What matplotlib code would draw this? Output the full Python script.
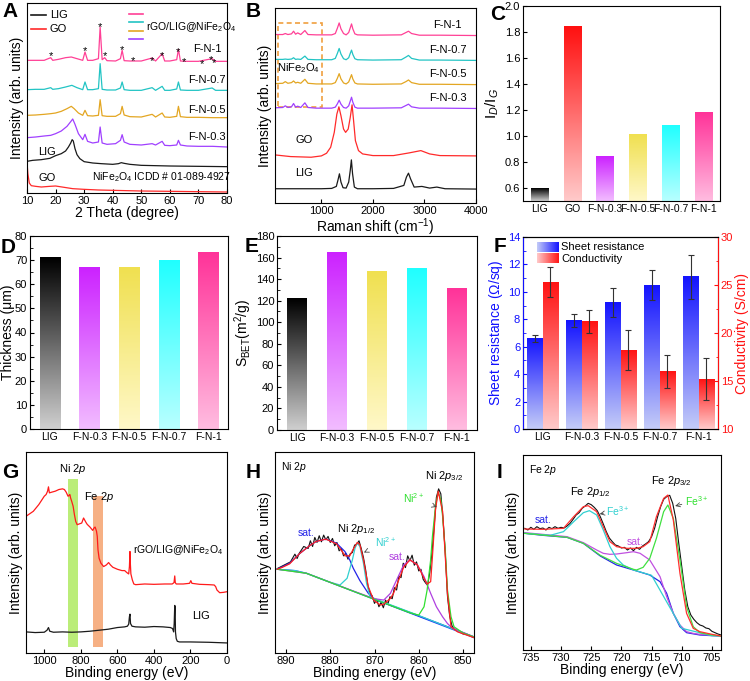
import numpy as np
import matplotlib
matplotlib.use("Agg")
import matplotlib.pyplot as plt
from matplotlib.colors import LinearSegmentedColormap

plt.rcParams.update({
    "font.family": "Liberation Sans",
    "mathtext.fontset": "custom",
    "mathtext.rm": "Liberation Sans",
    "mathtext.it": "Liberation Sans:italic",
    "mathtext.bf": "Liberation Sans:bold",
    "axes.linewidth": 0.8,
    "xtick.direction": "in",
    "ytick.direction": "in",
    "xtick.labelsize": 8,
    "ytick.labelsize": 8,
    "xtick.major.size": 3,
    "ytick.major.size": 3,
    "xtick.minor.size": 1.8,
    "ytick.minor.size": 1.8,
    "xtick.major.pad": 2.5,
    "ytick.major.pad": 2,
})

# ---------------- data ----------------
# A: XRD (2 theta, arb. intensity)
xrd_go_x = [10, 10.3, 10.8, 11.5, 13, 15, 18, 20, 23, 26, 30, 35, 40, 50, 60, 70, 80]
xrd_go_y = [93, 58, 30, 22, 20, 18, 20, 21, 17, 13, 11, 9, 8, 6, 5, 4, 3]
xrd_lig_x = [10, 12, 15, 18, 20, 22, 23.5, 24.5, 25.3, 25.8, 26.2, 26.8, 27.5, 28.5, 30, 33, 36,
             40, 42, 43, 44, 46, 50, 55, 60, 70, 80]
xrd_lig_y = [95, 98, 100, 104, 112, 118, 126, 138, 150, 160, 156, 133, 115, 103, 94, 90, 88,
             86, 88, 91, 89, 86, 83, 82, 81, 80, 79]
xrd_03_x = [10, 13, 16, 18.3, 20, 22, 24, 25.2, 26, 26.8, 28, 29.5, 30.3, 31.2, 33, 35, 35.6, 36.3,
            38, 41, 42.7, 43.3, 44, 46, 50, 53.8, 55, 57.3, 58.2, 60, 62.4, 63, 63.7, 66, 70, 75, 80]
xrd_03_y = [166, 168, 171, 173, 178, 186, 200, 213, 222, 206, 178, 160, 176, 155, 150, 153, 198, 150,
            146, 148, 158, 175, 153, 146, 144, 148, 144, 155, 143, 142, 144, 158, 144, 141, 140, 140, 138]
xrd_05_x = [10, 13, 16, 18.3, 20, 22, 24, 25.5, 26.5, 28, 29.5, 30.3, 31.2, 33, 35, 35.6, 36.3, 38,
            41, 42.7, 43.3, 44, 46, 50, 53.8, 55, 57.3, 58.2, 60, 62.4, 63, 63.7, 66, 70, 75, 80]
xrd_05_y = [233, 234, 236, 238, 240, 245, 253, 260, 253, 240, 233, 248, 232, 231, 233, 280, 232, 230,
            230, 238, 260, 234, 229, 228, 236, 228, 240, 228, 227, 230, 260, 229, 227, 227, 226, 226]
xrd_07_x = [10, 13, 16, 18.3, 19, 21, 23.5, 25.7, 27.5, 29.5, 30.3, 31.2, 33, 35, 35.6, 36.3, 38, 41,
            42.7, 43.3, 44, 46, 50, 53.8, 55, 57.3, 58.2, 60, 62.4, 63, 63.7, 66, 70, 74.8, 76, 80]
xrd_07_y = [310, 311, 311, 316, 311, 313, 318, 323, 316, 310, 333, 310, 310, 313, 388, 311, 309, 309,
            315, 333, 310, 308, 308, 316, 308, 320, 308, 308, 312, 333, 309, 308, 308, 315, 308, 308]
xrd_1_x = [10, 13, 16, 18.3, 19, 21, 23.5, 25.5, 27.5, 29.5, 30.3, 31.2, 33, 35, 35.6, 36.3, 37.2, 38,
           41, 42.7, 43.3, 44, 46, 50, 53.8, 55, 57.3, 58.2, 60, 62.4, 63, 63.7, 66, 70, 74.8, 76, 80]
xrd_1_y = [398, 398, 398, 406, 398, 401, 406, 408, 403, 398, 423, 398, 398, 403, 498, 400, 406, 397,
           396, 403, 428, 397, 396, 396, 405, 396, 418, 396, 396, 400, 431, 396, 395, 395, 403, 395, 395]
star_x = [18.3, 30.3, 35.6, 37.3, 43.3, 47.2, 53.7, 57.3, 62.9, 65, 71.3, 74.5, 75.5]
star_y = [416, 433, 503, 416, 436, 401, 401, 416, 430, 398, 393, 406, 396]

# B: Raman
ram_lig_x = [100, 500, 1000, 1200, 1290, 1320, 1350, 1380, 1420, 1480, 1530, 1560, 1582, 1605, 1640,
             1700, 2000, 2400, 2600, 2650, 2690, 2730, 2800, 2950, 3100, 3240, 3400, 4000]
ram_lig_y = [43, 43, 43, 44, 50, 68, 88, 63, 46, 45, 63, 98, 130, 88, 48,
             43, 43, 44, 53, 78, 90, 73, 48, 50, 45, 48, 43, 42]
ram_go_x = [100, 400, 800, 1000, 1100, 1180, 1250, 1300, 1340, 1380, 1430, 1470, 1520, 1560, 1595,
            1625, 1660, 1720, 1800, 2000, 2400, 2700, 2930, 3100, 3300, 4000]
ram_go_y = [145, 140, 138, 142, 150, 168, 213, 268, 290, 263, 223, 213, 223, 258, 296,
            248, 188, 158, 148, 143, 143, 151, 158, 148, 143, 142]
ram_x = [100, 250, 300, 350, 420, 460, 500, 540, 600, 680, 740, 900, 1200, 1270, 1310, 1345, 1380,
         1430, 1480, 1530, 1560, 1585, 1610, 1650, 1700, 2000, 2550, 2640, 2690, 2750, 2900, 3300, 4000]
ram_03_y = [287, 288, 293, 288, 290, 300, 289, 292, 288, 302, 288, 286, 286, 289, 299, 310, 298,
            288, 286, 293, 307, 319, 304, 289, 286, 286, 287, 294, 298, 290, 286, 286, 285]
ram_05_y = [360, 361, 366, 361, 363, 368, 362, 364, 361, 373, 361, 359, 359, 363, 376, 390, 374,
            362, 359, 365, 377, 387, 374, 362, 359, 358, 359, 366, 371, 363, 358, 358, 357]
ram_07_y = [433, 433, 434, 433, 434, 438, 433, 434, 433, 443, 433, 432, 432, 436, 451, 466, 449,
            435, 432, 438, 451, 461, 448, 435, 432, 431, 432, 440, 445, 436, 431, 431, 430]
ram_1_y = [508, 508, 511, 508, 510, 518, 509, 513, 508, 520, 508, 507, 507, 511, 527, 543, 525,
           511, 507, 514, 528, 540, 525, 510, 507, 506, 507, 514, 518, 511, 506, 506, 505]

# C: ID/IG
c_labels = ["LIG", "GO", "F-N-0.3", "F-N-0.5", "F-N-0.7", "F-N-1"]
c_values = [0.60, 1.84, 0.84, 1.01, 1.08, 1.18]

# D, E, F
s_labels = ["LIG", "F-N-0.3", "F-N-0.5", "F-N-0.7", "F-N-1"]
thickness = [71, 67, 67, 70, 73]
sbet = [122, 165, 147, 150, 131]
sheet_res = [6.6, 7.9, 9.2, 10.5, 11.1]
sheet_err = [0.25, 0.45, 1.05, 1.1, 1.6]
conduct = [25.3, 21.2, 18.2, 16.0, 15.2]
conduct_err = [1.6, 1.2, 2.1, 1.7, 2.2]

# G: XPS survey
sv_red_x = [1100, 1060, 1030, 1000, 990, 982, 977, 972, 960, 940, 920, 900, 890, 880, 870, 865, 860,
            856, 850, 842, 835, 828, 820, 805, 795, 785, 780, 772, 765, 750, 735, 728, 722, 718, 714,
            710, 706, 700, 690, 675, 660, 648, 638, 625, 600, 575, 560, 548, 538, 534, 531, 529, 526,
            518, 510, 500, 450, 400, 340, 300, 290, 286, 283, 278, 240, 205, 198, 192, 150, 100, 70,
            62, 55, 40, 20, 0]
sv_red_y = [408, 423, 443, 468, 473, 483, 496, 478, 480, 483, 488, 490, 488, 480, 468, 470, 473,
            463, 453, 438, 413, 393, 383, 386, 388, 403, 398, 390, 384, 376, 366, 373, 376, 370, 363,
            348, 308, 283, 268, 258, 263, 270, 263, 256, 250, 246, 246, 240, 236, 258, 303, 268, 236,
            218, 206, 204, 206, 205, 206, 206, 210, 230, 210, 206, 206, 208, 216, 208, 205, 204, 203,
            198, 188, 180, 181, 183]
sv_lig_x = [1100, 1050, 1000, 985, 977, 970, 950, 900, 850, 800, 750, 700, 650, 600, 560, 545, 538,
            534, 531, 528, 520, 500, 450, 400, 350, 310, 298, 292, 289, 286, 284, 282, 278, 272, 260,
            200, 100, 0]
sv_lig_y = [63, 61, 62, 68, 76, 65, 62, 63, 62, 63, 65, 68, 71, 76, 78, 80, 86, 108, 116, 88, 80,
            78, 77, 79, 78, 76, 73, 63, 88, 142, 138, 63, 43, 35, 33, 33, 32, 30]

# H: Ni 2p
ni_bg_x = [892, 888, 885.4, 847.5]
ni_bg_y = [250, 246, 238, 46]
ni_sat1_x = [892, 889.2, 887, 884.7, 883.2, 881, 878.6, 876.7, 875.6, 874.8, 873.3, 871.4, 870, 865,
             860, 855, 850, 847.5]
ni_sat1_y = [250, 268, 296, 320, 333, 340, 328, 303, 278, 253, 216, 178, 160, 136, 111, 86, 61, 48]
ni_p12_x = [892, 888, 885.4, 880, 877.8, 876.2, 875, 874.4, 873.9, 873.3, 872.5, 871.8, 871, 868,
            860, 850, 847.5]
ni_p12_y = [250, 246, 238, 211, 203, 223, 278, 313, 328, 318, 268, 208, 168, 152, 112, 60, 48]
ni_sat2_x = [892, 885.4, 875, 870, 867.9, 866.4, 865, 863.4, 862, 860.3, 858.8, 857.3, 856, 854.6,
             853.5, 852.7, 851.2, 847.5]
ni_sat2_y = [250, 238, 186, 162, 158, 178, 218, 263, 278, 263, 228, 178, 138, 108, 88, 78, 68, 48]
ni_p32_x = [892, 885.4, 870, 862, 860, 858.8, 858.1, 857.3, 856.9, 856.2, 855.6, 855, 854.6, 854,
            853.5, 852.7, 852, 850, 847.5]
ni_p32_y = [250, 238, 160, 120, 113, 138, 188, 278, 348, 438, 480, 458, 408, 308, 188, 108, 78, 60, 48]
ni_fit_x = [892, 890.8, 889.2, 887, 884.7, 883.2, 881, 878.6, 877.3, 876.7, 875.6, 874.8, 873.9,
            873.3, 872.5, 871.4, 870.2, 868.7, 867.9, 866.4, 865.7, 863.4, 862, 860.3, 858.8, 858.1,
            857.3, 856.9, 856.2, 855.6, 854.6, 853.5, 852.7, 851.2, 847.5]
ni_fit_y = [250, 256, 266, 296, 320, 333, 340, 326, 303, 290, 290, 310, 330, 323, 278, 198, 158,
            143, 146, 163, 178, 256, 278, 263, 223, 206, 213, 288, 428, 483, 423, 178, 78, 63, 46]
ni_raw_x = [892, 890.5, 889, 888, 887.5, 887, 886, 885, 884.5, 884, 883.5, 883, 882.5, 882, 881.5,
            881, 880.5, 880, 879.5, 879, 878.5, 878, 877.5, 877, 876.5, 876, 875.5, 875, 874.5, 874,
            873.5, 873, 872.5, 872, 871.5, 871, 870.5, 870, 869.5, 869, 868.5, 868, 867.5, 867, 866.5,
            866, 865.5, 865, 864.5, 864, 863.5, 863, 862.5, 862, 861.5, 861, 860.5, 860, 859.5, 859,
            858.5, 858, 857.5, 857, 856.5, 856, 855.5, 855, 854.5, 854, 853.5, 853, 852.5, 852, 851,
            850, 849, 848, 847.5]
ni_raw_y = [252, 262, 272, 295, 282, 298, 318, 312, 335, 318, 345, 330, 350, 332, 352,
            338, 348, 330, 342, 320, 330, 305, 312, 290, 298, 280, 296, 300, 322, 325,
            335, 312, 285, 248, 200, 178, 170, 148, 160, 138, 152, 135, 158, 145, 168,
            162, 195, 188, 230, 225, 268, 255, 290, 275, 292, 262, 272, 245, 250, 220,
            210, 202, 240, 300, 380, 465, 490, 475, 400, 300, 170, 110, 82, 72, 65,
            57, 55, 49, 46]

# I: Fe 2p
fe_bg_x = [736, 733, 729, 726.3, 723.5, 720.8, 718, 715.3, 713.6, 712.5, 711.4, 710.3, 709.2, 707,
           705, 703.5]
fe_bg_y = [350, 344, 338, 320, 282, 255, 240, 225, 205, 170, 110, 70, 52, 45, 43, 42]
fe_p32_x = [736, 729, 726.3, 723.5, 720.8, 718, 717.5, 716.4, 715.3, 714.2, 713.6, 713, 712.3, 711.4,
            710.3, 709.2, 708.1, 707, 705, 703.5]
fe_p32_y = [350, 338, 320, 284, 260, 242, 240, 248, 275, 335, 375, 415, 435, 395, 270, 130, 70, 52,
            45, 42]
fe_sat_x = [736, 729, 726.3, 724.1, 723, 721.9, 720.8, 719.1, 718, 716.9, 715.3, 713.6, 712.5, 711.4,
            710.3, 709.2, 708.1, 707, 705, 703.5]
fe_sat_y = [352, 340, 322, 300, 290, 287, 288, 292, 295, 290, 270, 220, 160, 110, 75, 55, 50, 47,
            44, 42]
fe_p12_x = [736, 731.8, 729.6, 727.9, 726.3, 725.3, 724.1, 723, 721.9, 720.8, 719.7, 718, 715, 710,
            705, 703.5]
fe_p12_y = [350, 344, 355, 385, 412, 418, 405, 360, 310, 275, 255, 240, 224, 65, 43, 42]
fe_fit_x = [736, 732.9, 729.6, 727.9, 726.3, 725.5, 724.1, 723, 721.9, 720.8, 719.1, 717.5, 716.4,
            715.3, 714.2, 713, 712.3, 711.4, 710.3, 709.2, 708.1, 707, 705, 703.5]
fe_fit_y = [363, 362, 365, 400, 430, 433, 415, 370, 325, 310, 305, 305, 310, 325, 400, 455, 465,
            390, 230, 110, 65, 55, 47, 42]
fe_raw_x = [736, 735.5, 735, 734.5, 734, 733.5, 733, 732.5, 732, 731.5, 731, 730.5, 730, 729.5, 729,
            728.5, 728, 727.5, 727, 726.5, 726, 725.5, 725, 724.5, 724, 723.5, 723, 722.5, 722,
            721.5, 721, 720.5, 720, 719.5, 719, 718.5, 718, 717.5, 717, 716.5, 716, 715.5, 715,
            714.5, 714, 713.5, 713, 712.5, 712, 711.5, 711, 710.5, 710, 709.5, 709, 708.5, 708,
            707.5, 707, 706.5, 706, 705.5, 705, 704.5, 704, 703.5]
fe_raw_y = [365, 360, 368, 362, 370, 364, 366, 360, 368, 364, 370, 365, 368, 366, 372,
            380, 392, 405, 412, 425, 432, 440, 436, 428, 418, 400, 378, 355, 336,
            325, 315, 312, 306, 308, 300, 306, 298, 308, 302, 312, 318, 325, 340,
            365, 400, 430, 452, 460, 464, 440, 395, 320, 250, 180, 130, 105, 92,
            82, 75, 72, 66, 64, 56, 52, 48, 45]

# ---------------- colours ----------------
C_LIG, C_GO = "#1a1a1a", "#ff2a2a"
C_03, C_05, C_07, C_1 = "#a040ff", "#e3a622", "#22c4c4", "#ff4096"
BAR = {"LIG": ("#000000", "#cfcfcf"), "GO": ("#ff1010", "#ffcaca"),
       "F-N-0.3": ("#cc22ff", "#f2bcff"), "F-N-0.5": ("#f0e050", "#fff8c8"),
       "F-N-0.7": ("#20ffff", "#b8ffff"), "F-N-1": ("#ff3399", "#ffbce0")}
GRAD = np.linspace(0, 1, 128).reshape(-1, 1)

W, H = 750, 681
fig = plt.figure(figsize=(7.5, 6.81), dpi=100)


def box(l, t, r, b):
    return fig.add_axes([l / W, 1 - b / H, (r - l) / W, (b - t) / H])


def grad_bar(ax, xc, w, y0, y1, top, bottom):
    cm = LinearSegmentedColormap.from_list("g", [bottom, top])
    ax.imshow(GRAD, cmap=cm, origin="lower", extent=(xc - w / 2, xc + w / 2, y0, y1),
              aspect="auto", zorder=2, interpolation="bilinear")


def letter(x, y, s):
    fig.text(x / W, 1 - y / H, s, fontsize=15, fontweight="bold", va="top", ha="left")


LBL = 10
CAT = 7.5

# ---------------- A ----------------
ax = box(27, 3, 227, 193)
ax.plot(xrd_go_x, xrd_go_y, color=C_GO, lw=0.9)
ax.plot(xrd_lig_x, xrd_lig_y, color=C_LIG, lw=0.9)
ax.plot(xrd_03_x, xrd_03_y, color=C_03, lw=0.9)
ax.plot(xrd_05_x, xrd_05_y, color=C_05, lw=0.9)
ax.plot(xrd_07_x, xrd_07_y, color=C_07, lw=0.9)
ax.plot(xrd_1_x, xrd_1_y, color=C_1, lw=0.9)
for sx, sy in zip(star_x, star_y):
    ax.text(sx, sy - 6, "*", ha="center", va="center", fontsize=8)
for s, y in [("F-N-1", 432), ("F-N-0.7", 338), ("F-N-0.5", 248), ("F-N-0.3", 168)]:
    ax.text(73, y, s, ha="center", va="center", fontsize=8)
ax.text(17, 123, "LIG", ha="center", va="center", fontsize=8)
ax.text(17, 45, "GO", ha="center", va="center", fontsize=8)
ax.text(57, 48, r"NiFe$_2$O$_4$ ICDD # 01-089-4927", ha="center", va="center", fontsize=7.5)
# legend
for c, y in [(C_LIG, 0.937), (C_GO, 0.862)]:
    ax.plot([0.02, 0.095], [y, y], color=c, lw=1.2, transform=ax.transAxes)
ax.text(0.115, 0.937, "LIG", va="center", fontsize=8, transform=ax.transAxes)
ax.text(0.115, 0.862, "GO", va="center", fontsize=8, transform=ax.transAxes)
for c, y in [(C_1, 0.94), (C_07, 0.898), (C_05, 0.852), (C_03, 0.812)]:
    ax.plot([0.51, 0.578], [y, y], color=c, lw=1.2, transform=ax.transAxes)
ax.text(0.595, 0.875, r"rGO/LIG@NiFe$_2$O$_4$", va="center", fontsize=7.5, transform=ax.transAxes)
ax.set_xlim(10, 80)
ax.set_ylim(0, 570)
ax.set_xticks(range(10, 81, 10))
ax.set_yticks([])
ax.set_xlabel("2 Theta (degree)", fontsize=LBL, labelpad=0)
ax.set_ylabel("Intensity (arb. units)", fontsize=LBL, labelpad=2)

# ---------------- B ----------------
ax = box(275, 8, 476, 203)
ax.plot(ram_lig_x, ram_lig_y, color=C_LIG, lw=0.9)
ax.plot(ram_go_x, ram_go_y, color=C_GO, lw=0.9)
ax.plot(ram_x, ram_03_y, color=C_03, lw=0.9)
ax.plot(ram_x, ram_05_y, color=C_05, lw=0.9)
ax.plot(ram_x, ram_07_y, color=C_07, lw=0.9)
ax.plot(ram_x, ram_1_y, color=C_1, lw=0.9)
ax.add_patch(plt.Rectangle((166, 290), 840, 254, fill=False, ec="#f0a040", lw=1.2, ls=(0, (3, 2))))
ax.text(560, 408, r"NiFe$_2$O$_4$", ha="center", va="center", fontsize=8)
for s, y in [("F-N-1", 536), ("F-N-0.7", 460), ("F-N-0.5", 390), ("F-N-0.3", 318)]:
    ax.text(3450, y, s, ha="center", va="center", fontsize=8)
ax.text(660, 190, "GO", ha="center", va="center", fontsize=8)
ax.text(660, 90, "LIG", ha="center", va="center", fontsize=8)
ax.set_xlim(100, 4000)
ax.set_ylim(0, 588)
ax.set_xticks([1000, 2000, 3000, 4000])
ax.set_yticks([])
ax.set_xlabel(r"Raman shift (cm$^{-1}$)", fontsize=LBL, labelpad=0)
ax.set_ylabel("Intensity (arb. units)", fontsize=LBL, labelpad=2)

# ---------------- C ----------------
ax = box(523, 6, 720, 201)
for i, (lab, v) in enumerate(zip(c_labels, c_values)):
    grad_bar(ax, i, 0.53, 0.5, v, *BAR[lab])
ax.set_xlim(-0.5, 5.5)
ax.set_ylim(0.5, 2.0)
ax.set_xticks(range(len(c_labels)))
ax.set_xticklabels(c_labels, fontsize=CAT)
ax.tick_params(axis="x", length=0)
ax.set_yticks(np.arange(0.6, 2.01, 0.2))
ax.set_yticklabels([f"{t:.1f}" for t in np.arange(0.6, 2.01, 0.2)])
ax.set_ylabel(r"I$_D$/I$_G$", fontsize=LBL + 1, labelpad=3)

# ---------------- D ----------------
ax = box(30, 236, 228, 429)
for i, (lab, v) in enumerate(zip(s_labels, thickness)):
    grad_bar(ax, i, 0.51, 0, v, *BAR[lab])
ax.set_xlim(-0.5, 4.5)
ax.set_ylim(0, 80)
ax.set_xticks(range(5))
ax.set_xticklabels(s_labels, fontsize=CAT)
ax.tick_params(axis="x", length=0)
ax.set_yticks(range(0, 81, 10))
ax.set_yticks(range(5, 80, 10), minor=True)
ax.set_ylabel("Thickness (μm)", fontsize=LBL, labelpad=0)

# ---------------- E ----------------
ax = box(277, 236, 477, 430)
for i, (lab, v) in enumerate(zip(s_labels, sbet)):
    grad_bar(ax, i, 0.5, 0, v, *BAR[lab])
ax.set_xlim(-0.5, 4.5)
ax.set_ylim(0, 180)
ax.set_xticks(range(5))
ax.set_xticklabels(s_labels, fontsize=CAT)
ax.tick_params(axis="x", length=0)
ax.set_yticks(range(0, 181, 20))
ax.set_yticks(range(10, 180, 20), minor=True)
ax.set_ylabel(r"S$_{\rm BET}$(m$^2$/g)", fontsize=LBL, labelpad=1)

# ---------------- F ----------------
ax = box(523, 237, 718, 429)
ax2 = ax.twinx()
xs = np.arange(len(s_labels))
for i in xs:
    grad_bar(ax, i - 0.2, 0.4, 0, sheet_res[i], "#1414ff", "#c4ccf8")
    grad_bar(ax2, i + 0.2, 0.4, 10, conduct[i], "#ff1414", "#ffcaca")
ax.errorbar(xs - 0.2, sheet_res, yerr=sheet_err, fmt="none", ecolor="#333333", elinewidth=0.8,
            capsize=2, capthick=0.8, zorder=3)
ax2.errorbar(xs + 0.2, conduct, yerr=conduct_err, fmt="none", ecolor="#333333", elinewidth=0.8,
             capsize=2, capthick=0.8, zorder=3)
cm_b = LinearSegmentedColormap.from_list("b", ["#c4ccf8", "#1414ff"])
cm_r = LinearSegmentedColormap.from_list("r", ["#ffcaca", "#ff1414"])
ax2.imshow(GRAD.T, cmap=cm_b, extent=(0.072, 0.18, 0.922, 0.972), transform=ax2.transAxes,
           aspect="auto", zorder=4)
ax2.imshow(GRAD.T, cmap=cm_r, extent=(0.072, 0.18, 0.862, 0.91), transform=ax2.transAxes,
           aspect="auto", zorder=4)
ax2.text(0.195, 0.947, "Sheet resistance", fontsize=8, va="center", transform=ax2.transAxes)
ax2.text(0.195, 0.886, "Conductivity", fontsize=8, va="center", transform=ax2.transAxes)
ax.set_xlim(-0.5, 4.5)
ax2.set_xlim(-0.5, 4.5)
ax.set_ylim(0, 14)
ax2.set_ylim(10, 30)
ax.set_xticks(xs)
ax.set_xticklabels(s_labels, fontsize=CAT)
ax.tick_params(axis="x", length=0)
ax.set_yticks(range(0, 15, 2))
ax.set_yticks(range(1, 14, 2), minor=True)
ax2.set_yticks(range(10, 31, 5))
ax2.set_yticks(np.arange(12.5, 30, 5), minor=True)
ax.tick_params(axis="y", which="both", colors="#1010ff")
ax2.tick_params(axis="y", which="both", colors="#ff1010")
ax2.spines["left"].set_color("#1010ff")
ax2.spines["right"].set_color("#ff1010")
ax.set_ylabel(r"Sheet resistance ($\Omega$/sq)", fontsize=LBL, color="#1010ff", labelpad=2)
ax2.set_ylabel("Conductivity (S/cm)", fontsize=LBL, color="#ff1010", labelpad=1)

# ---------------- G ----------------
ax = box(26, 452, 227, 653)
ax.axvspan(817, 868, ymin=18 / 600, ymax=518 / 600, color="#b4ec6a", alpha=0.9, lw=0)
ax.axvspan(680, 731, ymin=18 / 600, ymax=468 / 600, color="#f6a877", alpha=0.9, lw=0)
ax.plot(sv_red_x, sv_red_y, color="#ff1a1a", lw=0.9)
ax.plot(sv_lig_x, sv_lig_y, color=C_LIG, lw=0.9)
ax.text(843, 548, r"Ni 2$\mathit{p}$", ha="center", va="center", fontsize=8)
ax.text(700, 466, r"Fe 2$\mathit{p}$", ha="center", va="center", fontsize=8)
ax.text(268, 306, r"rGO/LIG@NiFe$_2$O$_4$", ha="center", va="center", fontsize=7.5)
ax.text(145, 110, "LIG", ha="center", va="center", fontsize=8)
ax.set_xlim(1100, 0)
ax.set_ylim(0, 600)
ax.set_xticks(range(0, 1001, 200))
ax.set_yticks([])
ax.set_xlabel("Binding energy (eV)", fontsize=LBL, labelpad=0)
ax.set_ylabel("Intensity (arb. units)", fontsize=LBL, labelpad=2)

# ---------------- H ----------------
ax = box(275, 452, 474, 653)
ax.plot(ni_raw_x, ni_raw_y, color="#111111", lw=0.8)
ax.plot(ni_bg_x, ni_bg_y, color="#2040ff", lw=0.9)
ax.plot(ni_sat1_x, ni_sat1_y, color="#2424e8", lw=0.9)
ax.plot(ni_p12_x, ni_p12_y, color="#30d0d0", lw=0.9)
ax.plot(ni_sat2_x, ni_sat2_y, color="#b040e0", lw=0.9)
ax.plot(ni_p32_x, ni_p32_y, color="#30e030", lw=0.9)
ax.plot(ni_fit_x, ni_fit_y, color="#ff2020", lw=0.9)
ax.text(0.03, 0.96, r"Ni 2$\mathit{p}$", transform=ax.transAxes, fontsize=7.5, va="top")
ax.text(854.3, 528, r"Ni 2$\mathit{p}_{3/2}$", ha="center", va="center", fontsize=8)
ax.text(874.2, 370, r"Ni 2$\mathit{p}_{1/2}$", ha="center", va="center", fontsize=8)
ax.text(885.4, 358, "sat.", color="#2424e8", ha="center", va="center", fontsize=7.5)
ax.text(864.9, 286, "sat.", color="#b040e0", ha="center", va="center", fontsize=7.5)
ax.annotate(r"Ni$^{2+}$", xy=(872.4, 300), xytext=(867.6, 330), color="#30d0d0", fontsize=7.5,
            ha="center", va="center",
            arrowprops=dict(arrowstyle="->", color="#444444", lw=0.6, shrinkA=5, shrinkB=0))
ax.annotate(r"Ni$^{2+}$", xy=(855.9, 436), xytext=(861.1, 461), color="#30e030", fontsize=7.5,
            ha="center", va="center",
            arrowprops=dict(arrowstyle="->", color="#444444", lw=0.6, shrinkA=5, shrinkB=0))
ax.set_xlim(892.5, 847.5)
ax.set_ylim(0, 600)
ax.set_xticks(range(850, 891, 10))
ax.set_yticks([])
ax.set_xlabel("Binding energy (eV)", fontsize=LBL, labelpad=0)
ax.set_ylabel("Intensity (arb. units)", fontsize=LBL, labelpad=2)

# ---------------- I ----------------
ax = box(523, 455, 721, 650)
ax.plot(fe_raw_x, fe_raw_y, color="#111111", lw=0.8)
ax.plot(fe_bg_x, fe_bg_y, color="#2424e8", lw=0.9)
ax.plot(fe_sat_x, fe_sat_y, color="#c050e0", lw=0.9)
ax.plot(fe_p12_x, fe_p12_y, color="#30d0d0", lw=0.9)
ax.plot(fe_p32_x, fe_p32_y, color="#40e040", lw=0.9)
ax.plot(fe_fit_x, fe_fit_y, color="#ff3030", lw=0.9)
ax.text(0.03, 0.96, r"Fe 2$\mathit{p}$", transform=ax.transAxes, fontsize=7.5, va="top")
ax.text(725.2, 475, r"Fe 2$\mathit{p}_{1/2}$", ha="center", va="center", fontsize=8)
ax.text(711.7, 508, r"Fe 2$\mathit{p}_{3/2}$", ha="center", va="center", fontsize=8)
ax.text(732.9, 390, "sat.", color="#2424e8", ha="center", va="center", fontsize=7.5)
ax.text(717.7, 325, "sat.", color="#c050e0", ha="center", va="center", fontsize=7.5)
ax.annotate(r"Fe$^{3+}$", xy=(723.6, 408), xytext=(720.6, 418), color="#30d0d0", fontsize=7.5,
            ha="center", va="center",
            arrowprops=dict(arrowstyle="->", color="#444444", lw=0.6, shrinkA=6, shrinkB=0))
ax.annotate(r"Fe$^{3+}$", xy=(711.1, 432), xytext=(707.6, 448), color="#30e030", fontsize=7.5,
            ha="center", va="center",
            arrowprops=dict(arrowstyle="->", color="#444444", lw=0.6, shrinkA=6, shrinkB=0))
ax.set_xlim(736.3, 703.5)
ax.set_ylim(0, 585)
ax.set_xticks(range(705, 736, 5))
ax.set_yticks([])
ax.set_xlabel("Binding energy (eV)", fontsize=LBL, labelpad=0)
ax.set_ylabel("Intensity (arb. units)", fontsize=LBL, labelpad=2)

for x, y, s in [(2, 2, "A"), (246, 2, "B"), (490, 5, "C"), (1, 238, "D"), (245, 237, "E"),
                (494, 237, "F"), (2, 463, "G"), (246, 463, "H"), (497, 463, "I")]:
    letter(x, y, s)

fig.savefig("out.png", dpi=100)
